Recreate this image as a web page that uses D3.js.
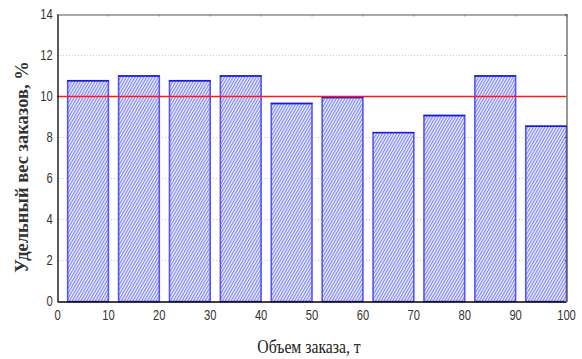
<!DOCTYPE html>
<html><head><meta charset="utf-8">
<script src="https://cdn.jsdelivr.net/npm/d3@7"></script>
<style>body{margin:0;background:#fff}</style>
</head><body>
<svg id="c" width="582" height="359"></svg>
<script>
const binStarts = [0,10,20,30,40,50,60,70,80,90];
const values = [10.77,11.0,10.77,11.0,9.66,9.95,8.24,9.07,11.0,8.55];
const xTicks = [0,10,20,30,40,50,60,70,80,90,100];
const yTicks = [0,2,4,6,8,10,12,14];
const refValue = 10;
const xTitle = "Объем заказа, т";
const yTitle = "Удельный вес заказов, %";

const svg = d3.select("#c");
const L=57, R=566, T=14, B=301;
const x = d3.scaleLinear().domain([0,100]).range([L,R]);
const y = d3.scaleLinear().domain([0,14]).range([B,T]);

const defs = svg.append("defs");
const pat = defs.append("pattern").attr("id","hatch").attr("patternUnits","userSpaceOnUse")
  .attr("width",2.5).attr("height",4).attr("patternTransform","rotate(30)");
pat.append("rect").attr("width",2.5).attr("height",4).attr("fill","#eef0ff");
pat.append("line").attr("x1",0.6).attr("y1",0).attr("x2",0.6).attr("y2",4)
  .attr("stroke","#6f76f2").attr("stroke-width",1.0);

// gridlines
svg.append("g").selectAll("line").data(yTicks.filter(d=>d>0&&d<14)).join("line")
  .attr("x1",L).attr("x2",R).attr("y1",d=>y(d)+0.5).attr("y2",d=>y(d)+0.5)
  .attr("stroke","#c8c8c8").attr("stroke-dasharray","1,2").attr("stroke-width",1);

// bars
const bars = svg.append("g").selectAll("g").data(values).join("g");
bars.append("rect")
  .attr("x",(d,i)=>x(binStarts[i]+2)+0.5)
  .attr("width",(d,i)=>x(binStarts[i]+10)-x(binStarts[i]+2))
  .attr("y",d=>y(d)+0.5).attr("height",d=>y(0)-y(d))
  .attr("fill","url(#hatch)").attr("stroke","#5555f5").attr("stroke-width",1.6);
bars.append("line")
  .attr("x1",(d,i)=>x(binStarts[i]+2)).attr("x2",(d,i)=>x(binStarts[i]+10)+1)
  .attr("y1",d=>y(d)+0.5).attr("y2",d=>y(d)+0.5)
  .attr("stroke","#1a1ad0").attr("stroke-width",1.4);

// ref line
svg.append("line").attr("x1",L).attr("x2",R).attr("y1",y(refValue)+0.5).attr("y2",y(refValue)+0.5)
  .attr("stroke","#ff1a1a").attr("stroke-width",1.3);

// axes
const fnt = "'Liberation Sans', Arial, sans-serif";
const xAxis = svg.append("g").attr("transform",`translate(0,${B+0.5})`)
  .call(d3.axisBottom(x).tickValues(xTicks).tickSize(0).tickPadding(9));
xAxis.select(".domain").attr("stroke","#000").attr("stroke-width",1.5);
xAxis.selectAll("text").attr("font-family",fnt).attr("font-size",14).attr("fill","#333")
  .attr("transform","scale(0.8,1)");

const yAxis = svg.append("g").attr("transform",`translate(${L+0.5},0)`)
  .call(d3.axisLeft(y).tickValues(yTicks).tickSize(0).tickPadding(6));
yAxis.select(".domain").attr("stroke","#000").attr("stroke-width",1.3);
yAxis.selectAll("text").attr("font-family",fnt).attr("font-size",14).attr("fill","#333")
  .attr("transform","scale(0.8,1)");

// top and right frame
const topAx = svg.append("g").attr("transform",`translate(0,${T+0.5})`)
  .call(d3.axisBottom(x).tickValues(xTicks.slice(1,-1)).tickSize(2).tickFormat(""));
topAx.select(".domain").attr("stroke","#555").attr("stroke-width",1.2);
topAx.selectAll(".tick line").attr("stroke","#888");
const rightAx = svg.append("g").attr("transform",`translate(${R+0.5},0)`)
  .call(d3.axisRight(y).tickValues(yTicks.slice(1,-1)).tickSize(-2).tickFormat(""));
rightAx.select(".domain").attr("stroke","#555").attr("stroke-width",1.2);
rightAx.selectAll(".tick line").attr("stroke","#555");

// titles
svg.append("text").attr("transform","translate(309,353) scale(0.85,1)").attr("text-anchor","middle")
  .attr("font-family","'Liberation Serif', 'Times New Roman', serif").attr("font-size",18.5)
  .attr("fill","#222").text(xTitle);
svg.append("text").attr("transform","translate(28,167) rotate(-90)").attr("text-anchor","middle")
  .attr("font-family","'Liberation Serif', 'Times New Roman', serif").attr("font-size",18.5)
  .attr("font-weight","bold").attr("fill","#333").text(yTitle);
</script>
</body></html>
